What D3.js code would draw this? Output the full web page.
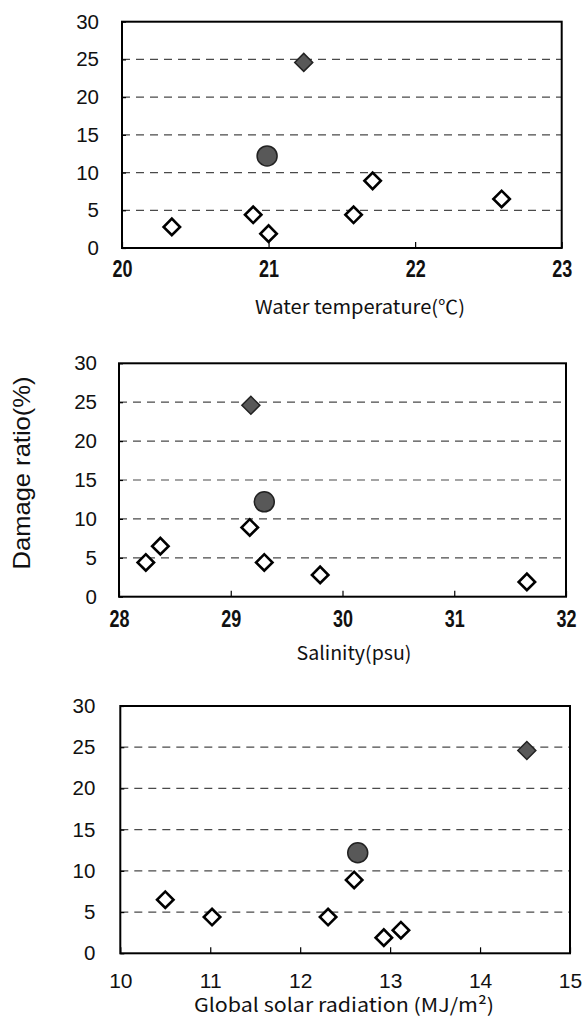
<!DOCTYPE html>
<html>
<head>
<meta charset="utf-8">
<script src="https://cdn.jsdelivr.net/npm/d3@7"></script>
<style>
  body { margin: 0; background: #fff; }
  svg { display: block; }
</style>
</head>
<body>
<svg id="chart" width="582" height="1019"></svg>
<script>
// damage ratio (%) per sample, shared by the three panels
const damage = [24.6, 12.2, 8.9, 6.5, 4.4, 4.4, 2.8, 1.9];
const marker = ["filled", "circle", "open", "open", "open", "open", "open", "open"];

// x values per panel, same sample order as damage
const waterTemp = [21.24, 20.99, 21.71, 22.59, 20.895, 21.58, 20.34, 21.0];
const salinity = [29.18, 29.30, 29.17, 28.37, 28.24, 29.30, 29.80, 31.65];
const solarRad = [14.52, 12.64, 12.60, 10.50, 11.02, 12.31, 13.12, 12.93];

const yTicks = [0, 5, 10, 15, 20, 25, 30];
const tempTicks = [20, 21, 22, 23];
const salTicks = [28, 29, 30, 31, 32];
const radTicks = [10, 11, 12, 13, 14, 15];

const titles = ["Water temperature(\u2103)", "Salinity(psu)", "Global solar radiation (MJ/m\u00b2)"];
const yTitle = "Damage ratio(%)";

const svg = d3.select("#chart");

const panels = [
  {xs: waterTemp, ticks: tempTicks, title: titles[0], box: [122, 561.7, 21.7, 248],
   labelPad: 23, tickBase: 29, condensed: true, titleX: 360, titleY: 314, titleW: 210},
  {xs: salinity, ticks: salTicks, title: titles[1], box: [119, 566, 363.3, 596.7],
   labelPad: 22, tickBase: 30, condensed: true, titleX: 354, titleY: 660, titleW: 115},
  {xs: solarRad, ticks: radTicks, title: titles[2], box: [120.3, 570, 706, 953.3],
   labelPad: 25, tickBase: 35, condensed: false, titleX: 344, titleY: 1012, titleW: 300}
];

panels.forEach(function(p){
  const [x0, x1, y0, y1] = p.box;
  const x = d3.scaleLinear().domain(d3.extent(p.ticks)).range([x0, x1]);
  const y = d3.scaleLinear().domain([0, 30]).range([y1, y0]);
  const g = svg.append("g");

  // dashed grid lines
  g.selectAll(".grid")
    .data(yTicks.filter(d => d > 0 && d < 30))
    .enter()
    .append("line")
    .attr("x1", x0).attr("x2", x1)
    .attr("y1", d => y(d)).attr("y2", d => y(d))
    .attr("stroke", "#4a4a4a")
    .attr("stroke-width", 1.2)
    .attr("stroke-dasharray", "8,6");

  // y axis
  const ya = g.append("g")
    .attr("transform", `translate(${x0},0)`)
    .call(d3.axisLeft(y).tickValues(yTicks).tickFormat(d3.format("d")).tickSize(-4).tickPadding(p.labelPad));
  ya.select(".domain").remove();
  ya.selectAll("line").attr("stroke", "#000").attr("stroke-width", 1.2);
  ya.selectAll("text")
    .attr("font-family", "'Liberation Sans', Arial, sans-serif")
    .attr("font-size", 20.5)
    .attr("fill", "#111");

  // x axis
  const xa = g.append("g")
    .attr("transform", `translate(0,${y1})`)
    .call(d3.axisBottom(x).tickValues(p.ticks).tickFormat(d3.format("d")).tickSize(-6));
  xa.select(".domain").remove();
  xa.selectAll("line").attr("stroke", "#000").attr("stroke-width", 1.2);
  let xt = xa.selectAll("text")
    .attr("y", p.tickBase)
    .attr("dy", null)
    .attr("fill", "#111")
    .attr("font-family", "'Liberation Sans', Arial, sans-serif");
  if(p.condensed){
    xt.attr("font-size", 23)
      .attr("font-weight", "bold")
      .attr("textLength", 20)
      .attr("lengthAdjust", "spacingAndGlyphs");
  }else{
    xt.attr("font-size", 21);
  }

  // frame
  g.append("rect")
    .attr("x", x0).attr("y", y0)
    .attr("width", x1 - x0).attr("height", y1 - y0)
    .attr("fill", "none")
    .attr("stroke", "#000")
    .attr("stroke-width", 2);

  // axis title
  g.append("text")
    .attr("x", p.titleX).attr("y", p.titleY)
    .attr("text-anchor", "middle")
    .attr("font-family", "'Noto Sans CJK JP', 'Noto Sans', sans-serif")
    .attr("font-size", 19)
    .attr("fill", "#111")
    .attr("textLength", p.titleW)
    .attr("lengthAdjust", "spacingAndGlyphs")
    .text(p.title);

  // points
  const pts = p.xs.map((v, i) => ({x: v, y: damage[i], m: marker[i]}));
  const sq = d3.symbol().type(d3.symbolSquare);
  const circ = d3.symbol().type(d3.symbolCircle).size(Math.PI * 100);

  g.selectAll(".pt")
    .data(pts)
    .enter()
    .append("path")
    .attr("class", "pt")
    .attr("d", d => d.m == "circle" ? circ() : sq.size(d.m == "filled" ? 162 : 135)())
    .attr("transform", d => `translate(${x(d.x)},${y(d.y)})` + (d.m == "circle" ? "" : " rotate(45)"))
    .attr("fill", d => d.m == "open" ? "#fff" : "#585858")
    .attr("stroke", d => d.m == "open" ? "#000" : "#222")
    .attr("stroke-width", d => d.m == "open" ? 2.6 : 1.5);
});

// shared y title
svg.append("text")
  .attr("transform", "translate(30,473) rotate(-90)")
  .attr("text-anchor", "middle")
  .attr("font-family", "'Liberation Sans', Arial, sans-serif")
  .attr("font-size", 24)
  .attr("fill", "#111")
  .attr("textLength", 193)
  .attr("lengthAdjust", "spacingAndGlyphs")
  .text(yTitle);
</script>
</body>
</html>
